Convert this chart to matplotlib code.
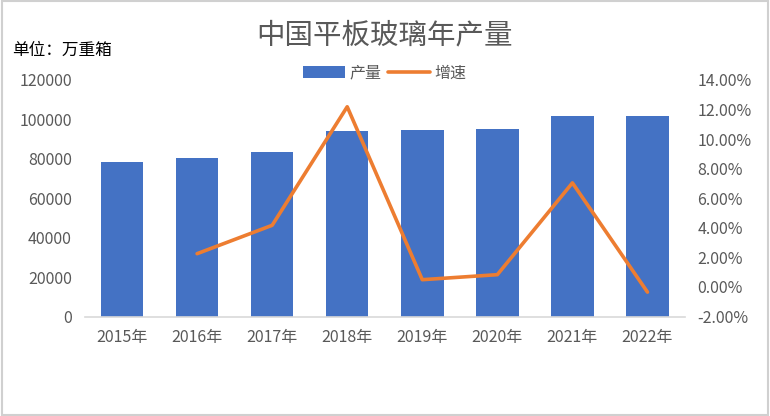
import matplotlib
matplotlib.use('Agg')
import matplotlib.pyplot as plt
from matplotlib.patches import Rectangle
from matplotlib.ticker import FuncFormatter, MultipleLocator

plt.rcParams['font.family'] = ['Noto Sans CJK SC', 'DejaVu Sans']

years = ['2015年', '2016年', '2017年', '2018年', '2019年', '2020年', '2021年', '2022年']
output = [78300, 80300, 83400, 94100, 94600, 95100, 101700, 101700]
growth_years = years[1:]
growth = [2.25, 4.17, 12.19, 0.49, 0.83, 7.04, -0.35]

grey = '#595959'

fig = plt.figure(figsize=(7.7, 4.16), dpi=100)
ax = fig.add_axes([84.5/770, 1 - 316.5/416, 600.5/770, 236.5/416])
ax2 = ax.twinx()

x = range(len(years))
bars = ax.bar(x, output, width=0.567, color='#4472C4', label='产量', zorder=2)
gx = [years.index(y) for y in growth_years]
line, = ax2.plot(gx, growth, color='#ED7D31', lw=2.6, label='增速',
                 solid_joinstyle='round', solid_capstyle='round', zorder=3)

ax.set_xlim(-0.5, len(years) - 0.5)
ax.set_ylim(0, 120000)
ax.yaxis.set_major_locator(MultipleLocator(20000))
ax2.set_ylim(-2, 14)
ax2.yaxis.set_major_locator(MultipleLocator(2))
ax2.yaxis.set_major_formatter(FuncFormatter(lambda v, p: f'{v:.2f}%'))

ax.set_xticks(list(x))
ax.set_xticklabels(years)

for a in (ax, ax2):
    for s in a.spines.values():
        s.set_visible(False)
    a.tick_params(length=0, labelsize=11.5, colors=grey)
ax.spines['bottom'].set_visible(True)
ax.spines['bottom'].set_color('#d9d9d9')
ax.spines['bottom'].set_linewidth(1.2)
ax.tick_params(axis='x', pad=9)
ax.tick_params(axis='y', pad=9)
ax2.tick_params(axis='y', pad=9)
ax2.set_zorder(ax.get_zorder() + 1)
ax2.patch.set_visible(False)

fig.text(0.5, 1 - 35/416, '中国平板玻璃年产量', ha='center', va='center',
         fontsize=20.5, color=grey, fontweight='light')
fig.text(12/770, 1 - 50/416, '单位：万重箱', ha='left', va='center',
         fontsize=12, color='black')

fig.legend(handles=[bars, line], loc='center', bbox_to_anchor=(0.5, 1 - 73/416),
           ncol=2, frameon=False, fontsize=11.5, labelcolor=grey,
           handlelength=2.6, handletextpad=0.3, columnspacing=0.4)

fig.add_artist(Rectangle((0.002, 0.003), 0.996, 0.994, transform=fig.transFigure,
                         fill=False, edgecolor='#d0d0d0', lw=1.5))

fig.savefig('out.png', dpi=100)
